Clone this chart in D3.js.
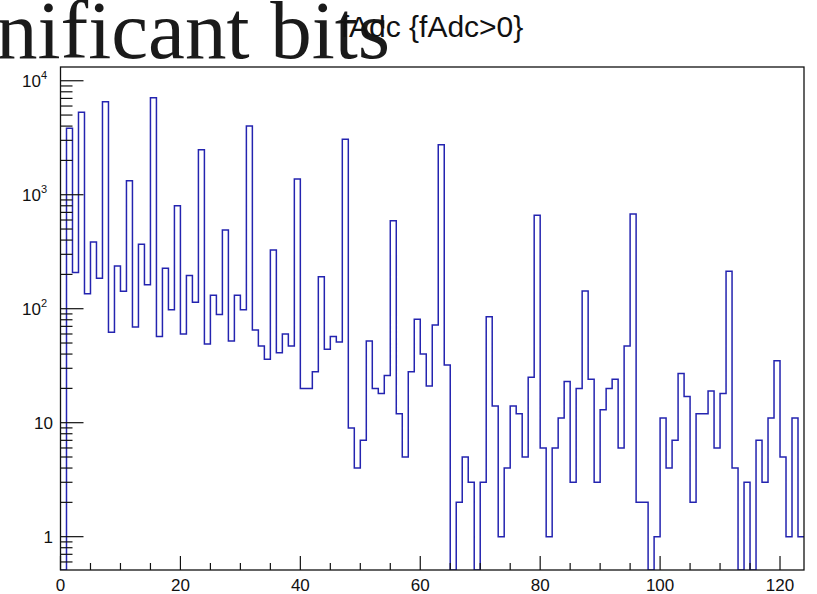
<!DOCTYPE html>
<html>
<head>
<meta charset="utf-8">
<script src="https://cdn.jsdelivr.net/npm/d3@7"></script>
<style>
  body { margin: 0; background: #fff; }
  svg { display: block; }
</style>
</head>
<body>
<div id="chart"></div>
<script>
// fAdc histogram, bins of width 1 from 0 to 124
var binLow = d3.range(0, 124);
var counts = [
  0, 3830, 208, 5300, 135, 385, 185, 6540, 62, 237,
  142, 1327, 69, 367, 162, 7100, 57, 226, 98, 801,
  60, 196, 114, 2480, 49, 131, 89, 490, 52, 131,
  98, 4010, 65, 47, 36, 327, 41, 60, 47, 1373,
  20, 20, 28, 191, 44, 57, 51, 3060, 9, 4,
  7, 52, 20, 18, 26, 591, 12, 5, 28, 81,
  40, 21, 72, 2750, 32, 0, 2, 5, 3, 0,
  3, 85, 14, 1, 4, 14, 12, 5, 25, 660,
  6, 1, 6, 11, 23, 3, 20, 143, 24, 3,
  13, 20, 24, 6, 47, 677, 2, 2, 0, 1,
  11, 4, 7, 27, 17, 2, 12, 12, 19, 6,
  18, 213, 4, 0, 3, 0, 7, 3, 11, 35,
  5, 1, 11, 1
];
var xMajor = [0, 20, 40, 60, 80, 100, 120];
var xMinor = d3.range(0, 125, 5).filter(function(d){ return d % 20 != 0; });
var yDecades = [1, 10, 100, 1000, 10000];
var yLabels = ["1", "10", "10|2", "10|3", "10|4"];

var width = 817, height = 594;
var fLeft = 60.5, fRight = 804, fTop = 67, fBottom = 570;

var svg = d3.select("#chart").append("svg")
  .attr("width", width)
  .attr("height", height);

var x = d3.scaleLinear().domain([0, 124]).range([fLeft, fRight]);
var y = d3.scaleLog().domain([0.51, 13200]).range([fBottom, fTop]);

// stray heading from behind the canvas
svg.append("text")
  .attr("x", -4)
  .attr("y", 58)
  .style("font-family", "Liberation Serif, Times New Roman, serif")
  .style("font-size", "83px")
  .style("fill", "#1a1a1a")
  .text("nificant bits");

svg.append("text")
  .attr("x", 432)
  .attr("y", 37)
  .attr("text-anchor", "middle")
  .style("font-family", "Liberation Sans, Arial, sans-serif")
  .style("font-size", "30px")
  .style("fill", "#111")
  .text("fAdc {fAdc>0}");

// histogram outline
svg.append("clipPath").attr("id", "frameClip")
  .append("rect")
  .attr("x", fLeft).attr("y", fTop)
  .attr("width", fRight - fLeft).attr("height", fBottom - fTop);

var path = d3.path();
path.moveTo(x(0), fBottom);
counts.forEach(function(c, i) {
  var yy = c > 0 ? y(c) : fBottom;
  path.lineTo(x(binLow[i]), yy);
  path.lineTo(x(binLow[i] + 1), yy);
});

svg.append("path")
  .attr("d", path.toString())
  .attr("clip-path", "url(#frameClip)")
  .style("fill", "none")
  .style("stroke", "#2424b0")
  .style("stroke-width", 1.5);

// ticks, ROOT style, pointing inwards
var tk = svg.append("g").style("stroke", "#111").style("stroke-width", 1.2);

xMajor.forEach(function(v) {
  tk.append("line").attr("x1", x(v)).attr("x2", x(v)).attr("y1", fBottom).attr("y2", fBottom - 14);
});
xMinor.forEach(function(v) {
  tk.append("line").attr("x1", x(v)).attr("x2", x(v)).attr("y1", fBottom).attr("y2", fBottom - 7);
});

var yMinor = [];
[0.1, 1, 10, 100, 1000].forEach(function(d) {
  d3.range(2, 10).forEach(function(k) {
    var v = d * k;
    if (v > 0.51 && v < 13200) yMinor.push(v);
  });
});
yDecades.forEach(function(v) {
  tk.append("line").attr("x1", fLeft).attr("x2", fLeft + 23).attr("y1", y(v)).attr("y2", y(v));
});
yMinor.forEach(function(v) {
  tk.append("line").attr("x1", fLeft).attr("x2", fLeft + 12).attr("y1", y(v)).attr("y2", y(v));
});

// frame
svg.append("rect")
  .attr("x", fLeft).attr("y", fTop)
  .attr("width", fRight - fLeft).attr("height", fBottom - fTop)
  .style("fill", "none")
  .style("stroke", "#111")
  .style("stroke-width", 1.3);

// labels
var labFont = "Liberation Sans, Arial, sans-serif";
xMajor.forEach(function(v) {
  svg.append("text")
    .attr("x", x(v))
    .attr("y", 591)
    .attr("text-anchor", "middle")
    .style("font-family", labFont)
    .style("font-size", "17px")
    .style("fill", "#111")
    .text(v);
});

yDecades.forEach(function(v, i) {
  var parts = yLabels[i].split("|");
  var t = svg.append("text")
    .attr("y", y(v) + 6)
    .style("font-family", labFont)
    .style("font-size", "17px")
    .style("fill", "#111");
  if (parts.length == 1) {
    t.attr("x", 53).attr("text-anchor", "end").text(parts[0]);
  } else {
    t.attr("x", 47).attr("text-anchor", "end");
    t.append("tspan").text(parts[0]);
    t.append("tspan").attr("dy", -8).style("font-size", "11px").text(parts[1]);
  }
});
</script>
</body>
</html>
